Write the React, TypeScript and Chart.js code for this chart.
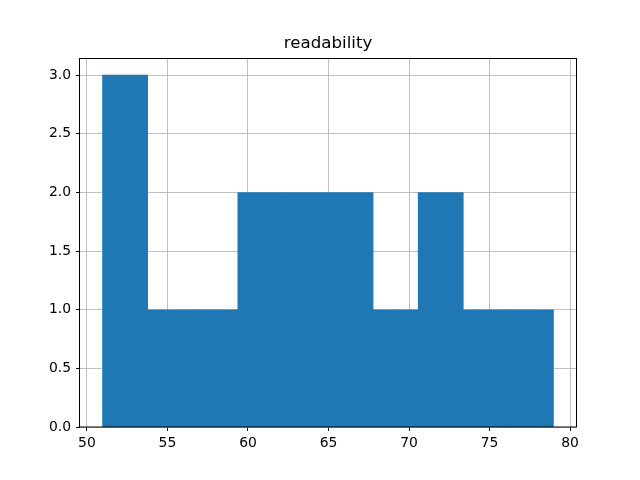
import React, { useEffect, useRef } from "react";
import { Chart, registerables } from "chart.js";

Chart.register(...registerables);

const titleText = "readability";
const binEdges = [50.97, 53.77, 56.57, 59.37, 62.17, 64.97, 67.77, 70.57, 73.37, 76.17, 78.97];
const counts = [3, 1, 1, 2, 2, 2, 1, 2, 1, 1];
const xTickValues = [50, 55, 60, 65, 70, 75, 80];
const yTickValues = [0, 0.5, 1.0, 1.5, 2.0, 2.5, 3.0];

const FONT = "'DejaVu Sans', sans-serif";

export default function App() {
  const ref = useRef<HTMLCanvasElement | null>(null);

  useEffect(() => {
    document.body.style.margin = "0";
    const canvas = ref.current;
    if (!canvas) return;

    const lo = binEdges[0];
    const hi = binEdges[binEdges.length - 1];
    const span = hi - lo;
    const xMin = lo - span * 0.05;
    const xMax = hi + span * 0.05;
    const yTop = Math.max(...counts) * 1.05;

    const points = counts.map((c, i) => ({ x: (binEdges[i] + binEdges[i + 1]) / 2, y: c }));

    const frame = {
      id: "frame",
      afterDraw(chart: any) {
        const { ctx, chartArea } = chart;
        ctx.save();
        ctx.strokeStyle = "#000";
        ctx.lineWidth = 1;
        ctx.strokeRect(
          Math.round(chartArea.left) - 0.5,
          Math.round(chartArea.top) + 0.5,
          Math.round(chartArea.right - chartArea.left) + 1,
          Math.round(chartArea.bottom - chartArea.top) - 0.5
        );
        ctx.restore();
      },
    };

    const chart = new Chart(canvas, {
      type: "bar",
      data: {
        datasets: [
          {
            data: points as any,
            backgroundColor: "#1f77b4",
            borderWidth: 0,
            barPercentage: 1,
            categoryPercentage: 1,
            grouped: false,
          } as any,
        ],
      },
      plugins: [frame],
      options: {
        animation: false,
        responsive: false,
        maintainAspectRatio: false,
        layout: { padding: { left: 0, right: 64, top: 0, bottom: 0 } },
        plugins: {
          legend: { display: false },
          tooltip: { enabled: false },
          title: {
            display: true,
            text: titleText,
            fullSize: false,
            color: "#000",
            font: { family: FONT, size: 16.67, weight: "normal" },
            padding: { top: 33.8, bottom: 3.8 },
          },
        },
        scales: {
          x: {
            type: "linear",
            min: xMin,
            max: xMax,
            offset: false,
            z: 1,
            afterBuildTicks: (s: any) => {
              s.ticks = xTickValues.map((v) => ({ value: v }));
            },
            afterFit: (s: any) => {
              s.height = 53;
            },
            border: { display: false },
            grid: {
              offset: false,
              color: "#b0b0b0",
              lineWidth: 0.8,
              tickColor: "#000",
              tickLength: 4,
              tickWidth: 1,
            },
            ticks: {
              color: "#000",
              font: { family: FONT, size: 13.9 },
              padding: 4,
              maxRotation: 0,
              autoSkip: false,
              callback: (v: any) => String(v),
            },
          },
          y: {
            type: "linear",
            min: 0,
            max: yTop,
            z: 1,
            afterBuildTicks: (s: any) => {
              s.ticks = yTickValues.map((v) => ({ value: v }));
            },
            afterFit: (s: any) => {
              s.width = 80;
            },
            border: { display: false },
            grid: {
              color: "#b0b0b0",
              lineWidth: 0.8,
              tickColor: "#000",
              tickLength: 4,
              tickWidth: 1,
            },
            ticks: {
              color: "#000",
              font: { family: FONT, size: 13.9 },
              padding: 5,
              autoSkip: false,
              callback: (v: any) => Number(v).toFixed(1),
            },
          },
        },
      },
    });

    return () => chart.destroy();
  }, []);

  return (
    <div style={{ position: "fixed", left: 0, top: 0, width: 640, height: 480, background: "#fff" }}>
      <canvas ref={ref} width={640} height={480} style={{ width: 640, height: 480, display: "block" }} />
    </div>
  );
}
